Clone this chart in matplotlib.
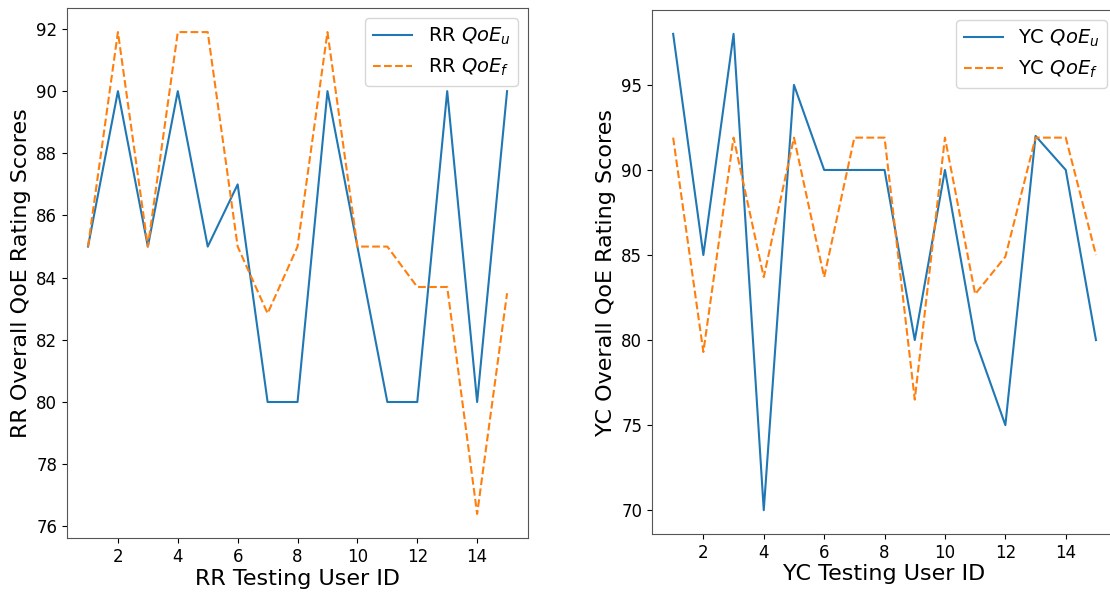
import matplotlib
matplotlib.use("Agg")
import matplotlib.pyplot as plt

user_ids = list(range(1, 16))
rr_qoe_u = [85, 90, 85, 90, 85, 87, 80, 80, 90, 85, 80, 80, 90, 80, 90]
rr_qoe_f = [85, 91.9, 85, 91.9, 91.9, 85, 82.85, 85, 91.9, 85, 85, 83.7, 83.7, 76.4, 83.5]
yc_qoe_u = [98, 85, 98, 70, 95, 90, 90, 90, 80, 90, 80, 75, 92, 90, 80]
yc_qoe_f = [91.9, 79.3, 91.9, 83.7, 91.9, 83.7, 91.9, 91.9, 76.5, 91.9, 82.7, 84.9, 91.9, 91.9, 85]

fig = plt.figure(figsize=(11.1, 5.92), dpi=100)
ax1 = fig.add_axes([0.0604, 0.0912, 0.4153, 0.8953])
ax2 = fig.add_axes([0.5874, 0.098, 0.419, 0.885])

for ax, name, u, f in [(ax1, "RR", rr_qoe_u, rr_qoe_f), (ax2, "YC", yc_qoe_u, yc_qoe_f)]:
    ax.plot(user_ids, u, color="C0", linestyle="-", linewidth=1.5, label=name + r" $QoE_u$")
    ax.plot(user_ids, f, color="C1", linestyle="--", linewidth=1.5, label=name + r" $QoE_f$")
    ax.set_xlabel(name + " Testing User ID", fontsize=16, labelpad=2)
    ax.set_ylabel(name + " Overall QoE Rating Scores", fontsize=16, labelpad=4)
    ax.tick_params(labelsize=12)
    ax.set_xticks([2, 4, 6, 8, 10, 12, 14])
    ax.legend(fontsize=14, loc="upper right")
    for s in ax.spines.values():
        s.set_color("#555555")

ax1.set_yticks([76, 78, 80, 82, 84, 86, 88, 90, 92])
ax2.set_yticks([70, 75, 80, 85, 90, 95])

fig.savefig("out.png", dpi=100)
